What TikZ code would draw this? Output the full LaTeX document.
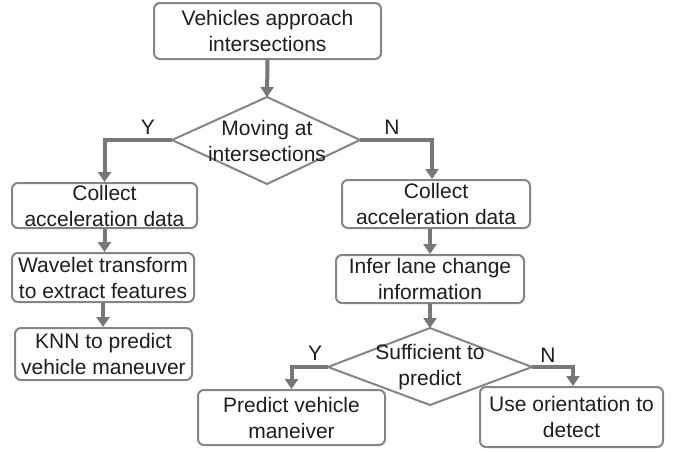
\documentclass[tikz,border=0pt]{standalone}
\usepackage{fontspec}
\setmainfont{Liberation Sans}
\usetikzlibrary{arrows.meta}
\definecolor{boxgray}{HTML}{858585}
\definecolor{arrgray}{HTML}{777777}
\definecolor{txt}{HTML}{1E1E1E}
\tikzset{
  box/.style={draw=boxgray, line width=2pt, rounded corners=6pt, fill=white,
    align=center, inner sep=0pt, text=txt, font=\fontsize{21}{26}\selectfont},
  dia/.style={draw=boxgray, line width=2pt, line join=miter},
  lbl/.style={text=txt, font=\fontsize{21}{26}\selectfont, inner sep=0pt, align=center},
  flow/.style={draw=arrgray, line width=4pt, -{Triangle[width=13pt,length=10pt]}}
}
\begin{document}
\begin{tikzpicture}[x=1pt,y=-1pt]
\useasboundingbox (0,0) rectangle (679,451);
\fill[white] (0,0) rectangle (679,451);

% boxes
\node[box, minimum width=227pt, minimum height=56pt] (top) at (267.5,31) {Vehicles approach\\intersections};
\node[box, minimum width=185pt, minimum height=45pt] (L1) at (104.5,205.5) {Collect\\acceleration data};
\node[box, minimum width=188pt, minimum height=48pt] (R1) at (436,204) {Collect\\acceleration data};
\node[box, minimum width=182pt, minimum height=49pt] (L2) at (103,277.5) {Wavelet transform\\to extract features};
\node[box, minimum width=177pt, minimum height=52pt] (L3) at (103.5,354) {KNN to predict\\vehicle maneuver};
\node[box, minimum width=188pt, minimum height=48pt] (R2) at (430,279) {Infer lane change\\information};
\node[box, minimum width=187pt, minimum height=55pt] (BL) at (291.5,417.5) {Predict vehicle\\maneiver};
\node[box, minimum width=183pt, minimum height=60pt] (BR) at (571.5,417) {Use orientation to\\detect};

% diamond 1
\coordinate (d1t) at (267,97);
\coordinate (d1l) at (172,140);
\coordinate (d1r) at (360,140);
\coordinate (d1b) at (267,184);
\draw[dia] (d1t) -- (d1r) -- (d1b) -- (d1l) -- cycle;
\node[lbl] (d1) at (267,141) {Moving at\\intersections};

% diamond 2
\coordinate (d2t) at (430,328);
\coordinate (d2l) at (328,367);
\coordinate (d2r) at (532,367);
\coordinate (d2b) at (430,405);
\draw[dia] (d2t) -- (d2r) -- (d2b) -- (d2l) -- cycle;
\node[lbl] (d2) at (430,367) {Sufficient to\\predict};

% connectors
\draw[flow] (top.south) -- (d1t);
\draw[flow] (d1l) -| (L1.north);
\draw[flow] (d1r) -| ([xshift=-4pt]R1.north);
\draw[flow] (L1.south) -- (L1.south |- L2.north);
\draw[flow] (L2.south) -- (L2.south |- L3.north);
\draw[flow] (R2.north |- R1.south) -- (R2.north);
\draw[flow] (R2.south) -- (d2t);
\draw[flow] (d2l) -| (BL.north);
\draw[flow] (d2r) -| ([xshift=1.5pt]BR.north);

% labels
\node[lbl] (y1) at (148,127) {Y};
\node[lbl] (n1) at (392,127) {N};
\node[lbl] (y2) at (315,353) {Y};
\node[lbl] (n2) at (548,355) {N};
\end{tikzpicture}
\end{document}
